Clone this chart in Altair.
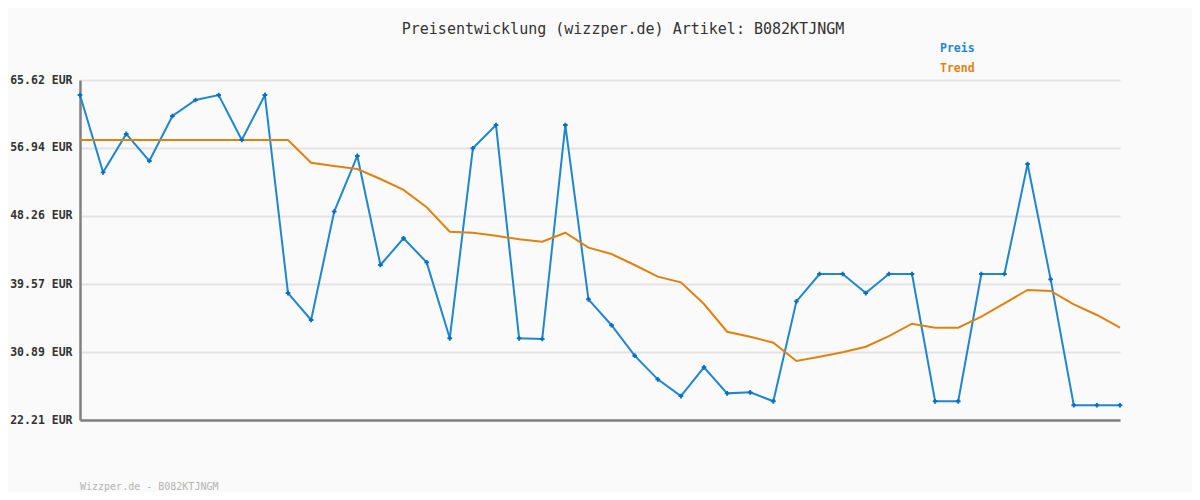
import altair as alt
import pandas as pd

title_text = "Preisentwicklung (wizzper.de) Artikel: B082KTJNGM"
footer_text = "Wizzper.de - B082KTJNGM"
series_names = ["Preis", "Trend"]
series_colors = ["#1f86d0", "#e0820f"]
y_ticks = [22.21, 30.89, 39.57, 48.26, 56.94, 65.62]

preis = [63.70, 53.83, 58.73, 55.28, 61.02, 63.07, 63.70, 57.96, 63.70, 38.42,
         34.98, 48.81, 55.92, 42.00, 45.41, 42.34, 32.64, 56.90, 59.87, 32.64,
         32.55, 59.87, 37.62, 34.31, 30.42, 27.40, 25.27, 28.94, 25.61, 25.74,
         24.60, 37.36, 40.85, 40.85, 38.42, 40.85, 40.85, 24.60, 24.60, 40.85,
         40.85, 54.89, 40.17, 24.09, 24.09, 24.09]

trend = [57.96, 57.96, 57.96, 57.96, 57.96, 57.96, 57.96, 57.96, 57.96, 57.96,
         55.06, 54.64, 54.26, 52.98, 51.58, 49.37, 46.25, 46.12, 45.74, 45.28,
         44.98, 46.12, 44.21, 43.40, 42.00, 40.51, 39.79, 37.02, 33.48, 32.84,
         32.08, 29.74, 30.29, 30.85, 31.57, 32.93, 34.50, 33.99, 33.99, 35.40,
         37.11, 38.81, 38.68, 36.98, 35.62, 33.99]

rows = []
for i, v in enumerate(preis):
    rows.append({"idx": i, "value": v, "series": "Preis"})
for i, v in enumerate(trend):
    rows.append({"idx": i, "value": v, "series": "Trend"})
df = pd.DataFrame(rows)

FONT = "DejaVu Sans Mono"

x_enc = alt.X("idx:Q", scale=alt.Scale(domain=[0, len(preis) - 1], nice=False, zero=False),
              axis=alt.Axis(labels=False, ticks=False, grid=False, title=None,
                            domainColor="#808080", domainWidth=2.5))
y_enc = alt.Y("value:Q", scale=alt.Scale(domain=[y_ticks[0], y_ticks[-1]], nice=False, zero=False),
              axis=alt.Axis(values=y_ticks, labelExpr="format(datum.value, '.2f') + ' EUR'",
                            title=None, ticks=False, grid=True, gridColor="#e3e3e3", gridWidth=2,
                            domainColor="#808080", domainWidth=2.5,
                            labelFont=FONT, labelFontSize=11.5, labelFontWeight="bold",
                            labelColor="#333333", labelPadding=8))
color_enc = alt.Color("series:N",
                      scale=alt.Scale(domain=series_names, range=series_colors),
                      legend=None)

lines = alt.Chart(df).mark_line(strokeWidth=2).encode(
    x=x_enc, y=y_enc, color=color_enc, order="idx:Q"
)
points = alt.Chart(df).transform_filter(alt.datum.series == "Preis").mark_point(
    shape="cross", size=22, filled=True, color="#0b6fbf", opacity=1
).encode(x="idx:Q", y="value:Q")

legend_layers = []
for k, (name, col) in enumerate(zip(series_names, series_colors)):
    legend_layers.append(
        alt.Chart(pd.DataFrame({"t": [name]})).mark_text(
            align="left", baseline="middle", font=FONT, fontSize=11.5,
            fontWeight="bold", color=col
        ).encode(x=alt.value(860), y=alt.value(-31 + 20 * k), text="t:N")
    )

footer = alt.Chart(pd.DataFrame({"t": [footer_text]})).mark_text(
    align="left", baseline="middle", font=FONT, fontSize=10, color="#b4b4b4"
).encode(x=alt.value(0), y=alt.value(407), text="t:N")

chart = alt.layer(lines, points, *legend_layers, footer).properties(
    width=1040, height=340,
    padding={"left": 72, "top": 72, "right": 72, "bottom": 72},
    autosize="none",
    title=alt.TitleParams(title_text, font=FONT, fontSize=15, fontWeight="normal",
                          color="#333333", dx=23, offset=6, anchor="middle"),
).configure(background="#fafafa").configure_view(stroke=None)

chart.save("out.html", embed_options={"renderer": "svg", "actions": False})
